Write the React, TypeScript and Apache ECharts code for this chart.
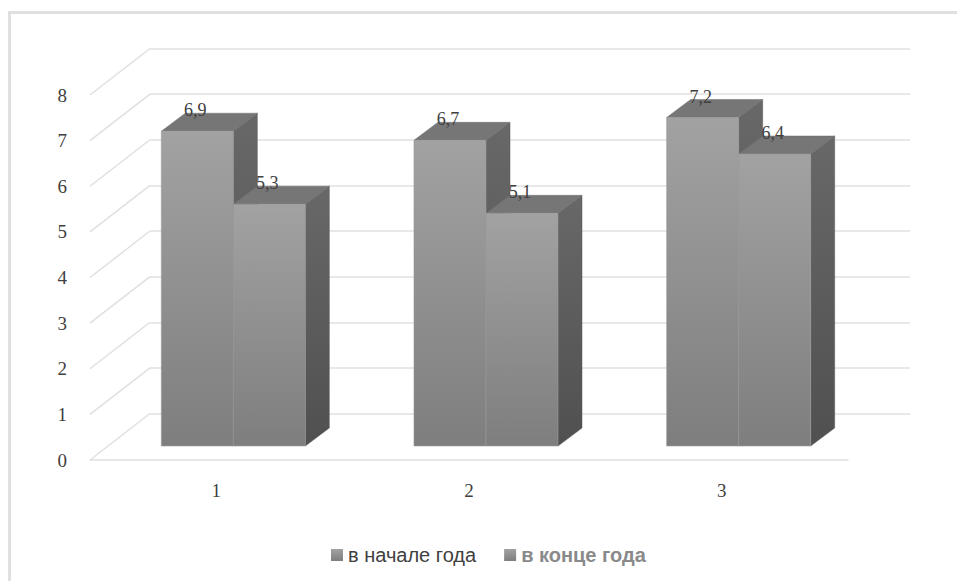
import React, { useEffect, useRef } from "react";
import * as echarts from "echarts";

const categories = ["1", "2", "3"];
const seriesNames = ["в начале года", "в конце года"];
const startValues = [6.9, 6.7, 7.2];
const endValues = [5.3, 5.1, 6.4];
const yTicks = [0, 1, 2, 3, 4, 5, 6, 7, 8];

const GRID = "#e0e0e0";
// 3D geometry (pixels)
const WALL_DX = 60;
const WALL_DY = -46.5;
const BAR_OX = 17;
const BAR_OY = -14;
const DEPTH_DX = 24;
const DEPTH_DY = -18;
const BAR_FRAC = 0.285;

function fmt(v: number) {
  return String(v).replace(".", ",");
}

export default function App() {
  const ref = useRef<HTMLDivElement>(null);
  useEffect(() => {
    if (!ref.current) return;
    const chart = echarts.init(ref.current, undefined, { renderer: "svg" });

    const frontGrad = new echarts.graphic.LinearGradient(0, 0, 0, 1, [
      { offset: 0, color: "#a2a2a2" },
      { offset: 1, color: "#7e7e7e" },
    ]);
    const sideGrad = new echarts.graphic.LinearGradient(0, 0, 0, 1, [
      { offset: 0, color: "#686868" },
      { offset: 1, color: "#505050" },
    ]);

    const barRender = (params: any, api: any) => {
      const i = api.value(0);
      const v = api.value(1);
      const base = api.coord([i, 0]);
      const top = api.coord([i, v]);
      const cw = api.size([1, 0])[0];
      const bw = cw * BAR_FRAC;
      const sIdx = params.seriesIndex === 0 ? 0 : 1;
      const x0 = base[0] + BAR_OX + (sIdx === 0 ? -bw : 0);
      const x1 = x0 + bw;
      const yb = base[1] + BAR_OY;
      const yt = top[1] + BAR_OY;
      return {
        type: "group",
        children: [
          {
            type: "polygon",
            shape: {
              points: [
                [x1, yt],
                [x1 + DEPTH_DX, yt + DEPTH_DY],
                [x1 + DEPTH_DX, yb + DEPTH_DY],
                [x1, yb],
              ],
            },
            style: { fill: sideGrad, stroke: "#5a5a5a", lineWidth: 0.5 },
          },
          {
            type: "polygon",
            shape: {
              points: [
                [x0, yt],
                [x0 + DEPTH_DX, yt + DEPTH_DY],
                [x1 + DEPTH_DX, yt + DEPTH_DY],
                [x1, yt],
              ],
            },
            style: { fill: "#767676", stroke: "#6e6e6e", lineWidth: 0.5 },
          },
          {
            type: "rect",
            shape: { x: x0, y: yt, width: bw, height: yb - yt },
            style: { fill: frontGrad, stroke: "#9a9a9a", lineWidth: 0.6 },
          },
          {
            type: "text",
            x: (x0 + x1) / 2 - 2,
            y: yt + DEPTH_DY + 6,
            style: {
              text: fmt(v),
              fill: "#404040",
              font: "18px 'Liberation Serif'",
              align: "center",
              verticalAlign: "bottom",
            },
          },
        ],
      };
    };

    const diagRender = (params: any, api: any) => {
      const v = api.value(0);
      const p = api.coord([0, v]);
      const cw = api.size([1, 0])[0];
      const x = p[0] - cw / 2;
      return {
        type: "line",
        shape: { x1: x, y1: p[1], x2: x + WALL_DX, y2: p[1] + WALL_DY },
        style: { stroke: GRID, lineWidth: 1.5 },
      };
    };

    chart.setOption({
      animation: false,
      backgroundColor: "#ffffff",
      graphic: [
        {
          type: "rect",
          shape: { x: 9.5, y: 12.5, width: 1000, height: 1000 },
          style: { fill: "none", stroke: "#e0e0e0", lineWidth: 3 },
          silent: true,
        },
      ],
      legend: {
        left: 326,
        top: 540,
        itemWidth: 12,
        itemHeight: 12,
        itemGap: 28,
        icon: "rect",
        textStyle: { fontFamily: "'Liberation Sans'", fontSize: 20 },
        data: [
          { name: seriesNames[0], textStyle: { color: "#404040", fontWeight: "normal" } },
          { name: seriesNames[1], textStyle: { color: "#8a8a8a", fontWeight: "bold" } },
        ],
      },
      grid: [
        { left: 90, right: 109, top: 95, bottom: 121 },
        { left: 150, right: 47, top: 48.5, bottom: 167.5 },
      ],
      xAxis: [
        {
          type: "category",
          gridIndex: 0,
          data: categories,
          axisLine: { show: true, lineStyle: { color: GRID, width: 1.5 } },
          axisTick: { show: false },
          axisLabel: {
            margin: 21,
            color: "#404040",
            fontSize: 19,
            fontFamily: "'Liberation Serif'",
          },
        },
        {
          type: "category",
          gridIndex: 1,
          data: categories,
          show: false,
        },
      ],
      yAxis: [
        {
          type: "value",
          gridIndex: 0,
          min: 0,
          max: 8,
          interval: 1,
          axisLine: { show: false },
          axisTick: { show: false },
          splitLine: { show: false },
          axisLabel: {
            margin: 23,
            color: "#404040",
            fontSize: 19,
            fontFamily: "'Liberation Serif'",
          },
        },
        {
          type: "value",
          gridIndex: 1,
          min: 0,
          max: 8,
          interval: 1,
          axisLine: { show: false },
          axisTick: { show: false },
          axisLabel: { show: false },
          splitLine: { show: true, lineStyle: { color: GRID, width: 1.5 } },
        },
      ],
      series: [
        {
          name: seriesNames[0],
          type: "custom",
          xAxisIndex: 0,
          yAxisIndex: 0,
          z: 5,
          itemStyle: { color: frontGrad },
          renderItem: barRender,
          encode: { x: 0, y: 1 },
          data: startValues.map((v, i) => [i, v]),
        },
        {
          name: seriesNames[1],
          type: "custom",
          xAxisIndex: 0,
          yAxisIndex: 0,
          z: 6,
          itemStyle: { color: frontGrad },
          renderItem: barRender,
          encode: { x: 0, y: 1 },
          data: endValues.map((v, i) => [i, v]),
        },
        {
          name: "diag",
          type: "custom",
          xAxisIndex: 0,
          yAxisIndex: 0,
          z: 1,
          silent: true,
          renderItem: diagRender,
          encode: { y: 0 },
          data: yTicks.map((t) => [t]),
        },
      ],
    });
    return () => chart.dispose();
  }, []);
  return (
    <div
      ref={ref}
      style={{ position: "fixed", left: 0, top: 0, width: 957, height: 581 }}
    />
  );
}
